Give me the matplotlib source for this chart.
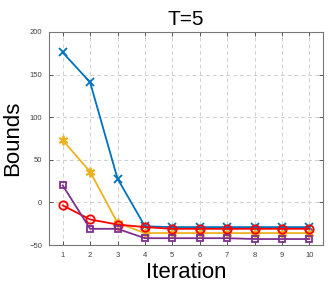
import matplotlib
matplotlib.use("Agg")
import matplotlib.pyplot as plt

plt.rcParams['font.family'] = ['Liberation Sans', 'DejaVu Sans']

iterations = [1, 2, 3, 4, 5, 6, 7, 8, 9, 10]
blue_x = [176, 141, 28, -28, -29, -29, -29, -29, -29, -29]
yellow_star = [73, 36, -24, -36, -36, -36, -36, -36, -36, -36]
red_o = [-3.5, -20, -26, -29, -31, -31, -31, -31, -31, -31]
purple_sq = [20, -31, -31, -42, -42, -42, -42, -43, -43, -43]

fig = plt.figure(figsize=(3.32, 2.85), dpi=100)
ax = fig.add_axes([49 / 332, 1 - 245 / 285, 274 / 332, 213 / 285])

ax.plot(iterations, blue_x, color='#0072BD', marker='x', ms=6, mew=1.3, lw=1.3)
ax.plot(iterations, yellow_star, color='#EDB120', marker=(6, 2, 0), ms=7, mew=1.3, lw=1.3)
ax.plot(iterations, red_o, color='#FF0000', marker='o', ms=6, mfc='none', mew=1.3, lw=1.3)
ax.plot(iterations, purple_sq, color='#7E2F8E', marker='s', ms=5, mfc='none', mew=1.3, lw=1.3)

ax.set_xlim(0.5, 10.5)
ax.set_ylim(-50, 200)
ax.set_xticks(iterations)
ax.set_yticks([-50, 0, 50, 100, 150, 200])
ax.grid(True, linestyle=(0, (4, 3)), color='#d0d0d0', lw=0.7)
ax.set_axisbelow(True)
ax.tick_params(direction='in', length=3, width=0.6, labelsize=5.5, colors='#404040',
               top=True, right=True, pad=5)
for s in ax.spines.values():
    s.set_color('#777777')
    s.set_linewidth(0.8)

ax.set_title('T=5', fontsize=15, pad=5)
ax.set_xlabel('Iteration', fontsize=16, labelpad=2)
ax.set_ylabel('Bounds', fontsize=16, labelpad=4)

fig.savefig('out.png', dpi=100)
